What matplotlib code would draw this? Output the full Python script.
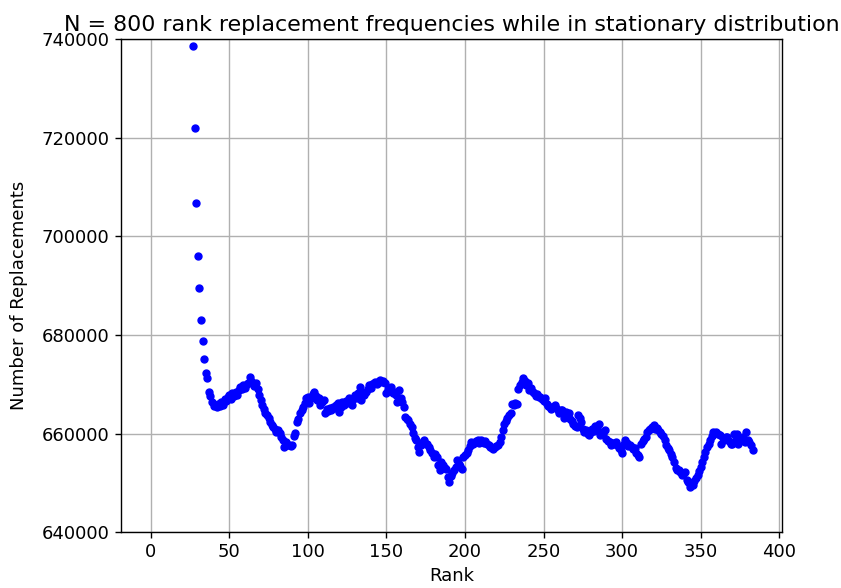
import matplotlib
matplotlib.use("Agg")
import matplotlib.pyplot as plt
import numpy as np

# replacement counts, one per rank starting at first_rank
first_rank = 27
replacements = [
    738650, 721900, 706700, 696000, 689600, 683000, 678800, 675100, 672200, 671200,  # 27-36
    668400, 667600, 666500, 665600, 665900, 665300, 666100, 665700, 666400, 665900,  # 37-46
    667000, 666600, 667400, 667800, 667100, 668200, 667600, 668400, 667900, 668900,  # 47-56
    669500, 669100, 669800, 669300, 670000, 670300, 671400, 670600, 670200, 669700,  # 57-66
    670300, 669000, 667800, 666800, 665900, 664900, 664200, 663700, 663100, 662400,  # 67-76
    661800, 661300, 661000, 660400, 660800, 660100, 659300, 658700, 657300, 658400,  # 77-86
    657600, 657700, 657500, 657600, 659500, 660200, 662300, 662900, 664100, 664700,  # 87-96
    665400, 666200, 667200, 667500, 666300, 667300, 668000, 668500, 667700, 666900,  # 97-106
    667200, 665800, 666500, 666800, 664200, 664900, 664500, 665200, 664800, 665500,  # 107-116
    665100, 665800, 666300, 664400, 665300, 666400, 665900, 666700, 666300, 667200,  # 117-126
    666600, 665800, 667000, 667800, 667300, 668200, 669500, 666800, 668100, 667900,  # 127-136
    668500, 669000, 669800, 669300, 670000, 670300, 670500, 670100, 670600, 670850,  # 137-146
    670400, 670600, 670200, 668200, 669000, 668600, 669500, 668300, 668500, 667800,  # 147-156
    666500, 668800, 667200, 666500, 665400, 663400, 663000, 662700, 661900, 661400,  # 157-166
    660100, 659200, 658700, 657300, 656300, 657600, 658300, 658700, 657900, 658000,  # 167-176
    657200, 656600, 656000, 655300, 655800, 655300, 653600, 652600, 654200, 653600,  # 177-186
    653000, 652900, 651300, 650200, 651500, 651950, 652600, 653300, 654600, 653900,  # 187-196
    653400, 652900, 655300, 655700, 656100, 656650, 657500, 658300, 657800, 658100,  # 197-206
    658500, 658700, 658200, 658700, 658400, 658100, 658600, 657900, 657700, 657300,  # 207-216
    657000, 656900, 657200, 657500, 657700, 658300, 659400, 660700, 662000, 662500,  # 217-226
    663100, 663700, 664100, 666100, 665900, 666300, 666100, 669100, 669800, 670500,  # 227-236
    671200, 670600, 669800, 670200, 668800, 669300, 668500, 668150, 667700, 668000,  # 237-246
    667400, 667450, 667000, 666600, 667150, 666000, 665600, 665450, 665000, 665300,  # 247-256
    665800, 665100, 664700, 664100, 664700, 664800, 663100, 664300, 663500, 664100,  # 257-266
    663000, 662500, 662050, 661600, 661350, 663750, 663100, 662400, 661000, 660350,  # 267-276
    660800, 660000, 659700, 660400, 661000, 660600, 661500, 660900, 662050, 659700,  # 277-286
    660400, 659900, 660700, 659000, 658600, 658300, 657700, 658100, 657900, 658350,  # 287-296
    657600, 657000, 656600, 656000, 657800, 658700, 658100, 657500, 657700, 657300,  # 297-306
    656800, 657000, 656100, 655700, 655300, 658000, 658600, 659000, 659350, 660300,  # 307-316
    660700, 661000, 661350, 661750, 661000, 661050, 660700, 660300, 660000, 659600,  # 317-326
    658700, 657700, 657100, 656650, 655900, 655300, 654200, 652950, 652600, 652700,  # 327-336
    652250, 651550, 651900, 652250, 650550, 650100, 649200, 649600, 649550, 650300,  # 337-346
    651000, 651550, 652400, 653250, 654300, 655300, 656200, 657300, 657800, 658700,  # 347-356
    659500, 660350, 660100, 660300, 660000, 659700, 658000, 659200, 658800, 659400,  # 357-366
    659350, 658600, 658000, 658000, 660000, 658500, 660000, 658000, 658600, 659000,  # 367-376
    659350, 658400, 660350, 658700, 658350, 657600, 656650,                          # 377-383
]
ranks = np.arange(first_rank, first_rank + len(replacements))

fig = plt.figure(figsize=(8.41, 5.88), dpi=100)
ax = fig.add_axes([120.7 / 841, 55.7 / 588, 661.3 / 841, 493.3 / 588])

ax.plot(ranks, replacements, 'o', color='blue', markersize=5)

ax.set_xlim(-19.1, 401.7)
ax.set_ylim(640000, 740000)
ax.set_xticks(np.arange(0, 401, 50))
ax.set_yticks(np.arange(640000, 740001, 20000))
ax.grid(True, color='#b0b0b0', linewidth=1.0)
ax.set_axisbelow(True)

ax.tick_params(labelsize=13, width=1.0, length=4.5)
for s in ax.spines.values():
    s.set_linewidth(1.0)

ax.set_title("N = 800 rank replacement frequencies while in stationary distribution", fontsize=15.9)
ax.set_xlabel("Rank", fontsize=13)
ax.set_ylabel("Number of Replacements", fontsize=13)
ax.yaxis.set_label_coords(-0.140, 0.48)

fig.savefig("out.png", dpi=100)
